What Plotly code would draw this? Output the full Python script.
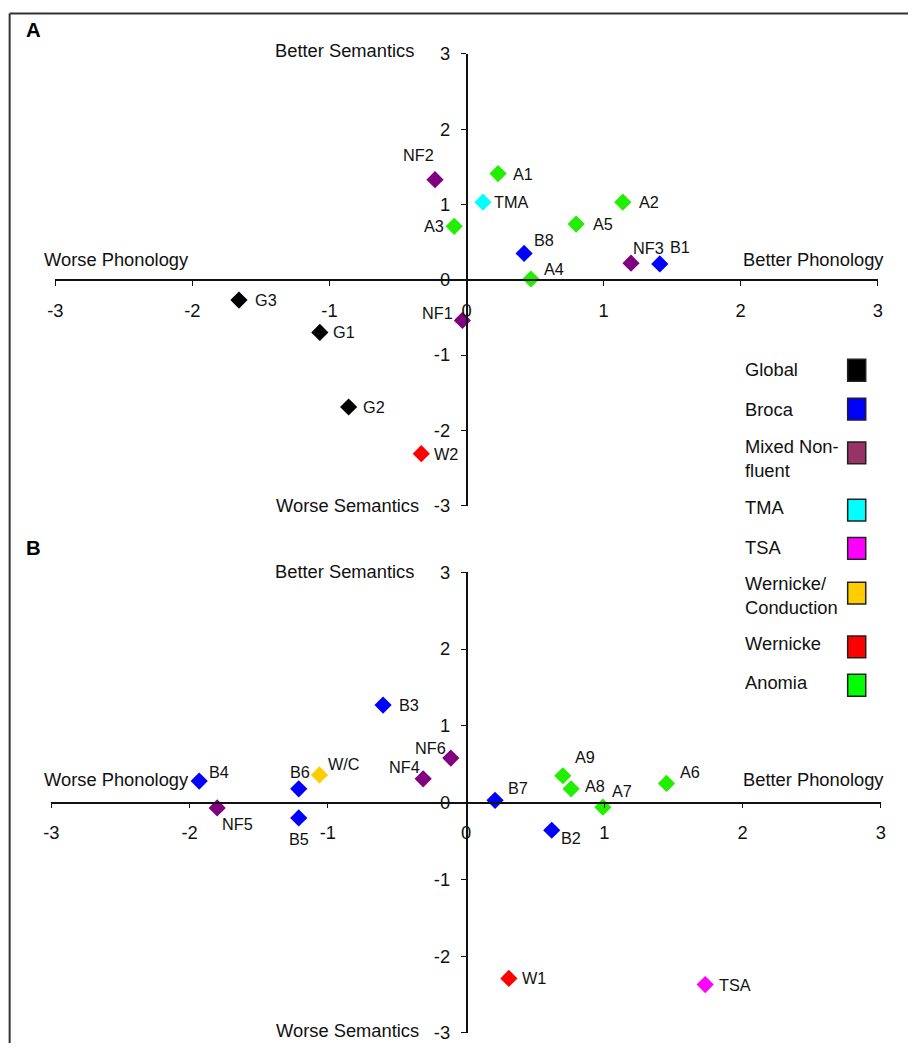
import plotly.graph_objects as go

# ---------------- data ----------------
groups = ["Global", "Broca", "Mixed Non-fluent", "TMA", "TSA",
          "Wernicke/Conduction", "Wernicke", "Anomia"]
legend_text = ["Global", "Broca", "Mixed Non-<br>fluent", "TMA", "TSA",
               "Wernicke/<br>Conduction", "Wernicke", "Anomia"]
marker_colors = ["#000000", "#0000FF", "#800080", "#00FFFF", "#FF00FF",
                 "#FFCC00", "#FF0000", "#22EE00"]
legend_colors = ["#000000", "#0000FF", "#993366", "#00FFFF", "#FF00FF",
                 "#FFCC00", "#FF0000", "#00FF00"]

labels_a = ["NF2", "A1", "TMA", "A3", "A2", "A5", "B8", "A4", "NF3", "B1",
            "G3", "G1", "NF1", "G2", "W2"]
phon_a = [-0.23, 0.23, 0.12, -0.09, 1.14, 0.80, 0.42, 0.47, 1.20, 1.41,
          -1.66, -1.07, -0.03, -0.86, -0.33]
sem_a = [1.33, 1.41, 1.03, 0.71, 1.03, 0.74, 0.35, 0.01, 0.22, 0.21,
         -0.27, -0.70, -0.54, -1.69, -2.31]
group_a = ["Mixed Non-fluent", "Anomia", "TMA", "Anomia", "Anomia", "Anomia",
           "Broca", "Anomia", "Mixed Non-fluent", "Broca", "Global", "Global",
           "Mixed Non-fluent", "Global", "Wernicke"]

labels_b = ["B3", "NF6", "NF4", "W/C", "B6", "B5", "B4", "NF5", "B7", "B2",
            "A9", "A8", "A7", "A6", "W1", "TSA"]
phon_b = [-0.60, -0.11, -0.31, -1.06, -1.21, -1.21, -1.93, -1.80, 0.21, 0.62,
          0.70, 0.76, 0.99, 1.45, 0.31, 1.73]
sem_b = [1.27, 0.58, 0.31, 0.36, 0.18, -0.20, 0.28, -0.07, 0.03, -0.36,
         0.35, 0.18, -0.06, 0.25, -2.29, -2.37]
group_b = ["Broca", "Mixed Non-fluent", "Mixed Non-fluent", "Wernicke/Conduction",
           "Broca", "Broca", "Broca", "Mixed Non-fluent", "Broca", "Broca",
           "Anomia", "Anomia", "Anomia", "Anomia", "Wernicke", "TSA"]

tick_vals = [-3, -2, -1, 0, 1, 2, 3]
tick_text = ["-3", "-2", "-1", "0", "1", "2", "3"]

# ---------------- styling ----------------
# label offsets in pixels (label centre relative to marker centre; +y = down)
label_off_a = [(-16, -24), (25, 0), (28, 0), (-20, 0), (26, 0), (26, 0),
               (20, -13), (23, -10), (17, -15), (20, -17), (27, 0), (24, 0),
               (-24, -7), (25, 0), (24, 0)]
label_off_b = [(25, 0), (-20, -10), (-18, -12), (24, -11), (1, -16), (0, 21),
               (19, -9), (20, 16), (23, -12), (19, 8), (22, -18), (23, -3),
               (19, -16), (23, -11), (25, 0), (29, 0)]

FONT = "Liberation Sans, Arial, sans-serif"
W, H = 913, 1053
BODY = 8                      # page margin around the figure
SX, SY = W / (W + 2 * BODY), H / (H + 2 * BODY)   # page -> picture scale
K = 1 / SX                    # size compensation
color_of = dict(zip(groups, marker_colors))


def px_x(p):
    return (p / SX - BODY) / W


def px_y(p):
    return 1 - (p / SY - BODY) / H


def fs(s):
    return round(s * K, 2)


fig = go.Figure()
anns = []

for lab, xs, ys, gs, offs, xa, ya in [
    (labels_a, phon_a, sem_a, group_a, label_off_a, "x", "y"),
    (labels_b, phon_b, sem_b, group_b, label_off_b, "x2", "y2"),
]:
    fig.add_trace(go.Scatter(
        x=xs, y=ys, mode="markers",
        marker=dict(symbol="diamond", size=fs(13),
                    color=[color_of[g] for g in gs], line=dict(width=0)),
        xaxis=xa, yaxis=ya, showlegend=False, cliponaxis=False,
        hovertext=lab, hoverinfo="text+x+y",
    ))
    for t, x, y, (dx, dy) in zip(lab, xs, ys, offs):
        anns.append(dict(text=t, x=x, y=y, xref=xa, yref=ya, xshift=dx * K,
                         yshift=-dy * K, xanchor="center", yanchor="middle",
                         showarrow=False,
                         font=dict(family=FONT, size=fs(16), color="#111")))

axis_common = dict(range=[-3, 3], tickvals=tick_vals, ticktext=tick_text,
                   ticks="outside", ticklen=5, tickwidth=1, tickcolor="#111",
                   showline=True, linecolor="#111", linewidth=1.5,
                   showgrid=False, zeroline=False, anchor="free",
                   tickfont=dict(family=FONT, size=fs(18), color="#111"),
                   fixedrange=True)

fig.update_layout(
    width=W, height=H, margin=dict(l=0, r=0, t=0, b=0),
    paper_bgcolor="white", plot_bgcolor="rgba(0,0,0,0)",
    xaxis=dict(axis_common, domain=[px_x(55), px_x(875)], position=px_y(278.5),
               ticklabelstandoff=9),
    yaxis=dict(axis_common, domain=[px_y(505), px_y(51)], position=px_x(465),
               ticklabelstandoff=7),
    xaxis2=dict(axis_common, domain=[px_x(51), px_x(878)], position=px_y(803.5),
                ticklabelstandoff=9),
    yaxis2=dict(axis_common, domain=[px_y(1035), px_y(572)], position=px_x(465),
                ticklabelstandoff=7),
)

# quadrant titles
for ys in [(48, 258, 258, 505), (571, 780, 780, 1033)]:
    for txt, px, py, xan in [("Better Semantics", 415, ys[0], "right"),
                             ("Worse Phonology", 42, ys[1], "left"),
                             ("Better Phonology", 883, ys[2], "right"),
                             ("Worse Semantics", 420, ys[3], "right")]:
        anns.append(dict(text=txt, x=px_x(px), y=px_y(py), xref="paper",
                         yref="paper", xanchor=xan, yanchor="middle",
                         showarrow=False,
                         font=dict(family=FONT, size=fs(18), color="#111")))

for letter, py in [("A", 27), ("B", 548)]:
    anns.append(dict(text="<b>%s</b>" % letter, x=px_x(33), y=px_y(py),
                     xref="paper", yref="paper", xanchor="center",
                     yanchor="middle", showarrow=False,
                     font=dict(family=FONT, size=fs(20), color="#000")))

# legend (text left, colored box right)
legend_text_y = [368, 408, 457.5, 507, 547, 595, 644, 683]
legend_box_y = [369, 408, 452, 509.5, 548, 593, 647, 685.5]
shapes = []
for t, c, ty, by in zip(legend_text, legend_colors, legend_text_y, legend_box_y):
    anns.append(dict(text=t, x=px_x(741), y=px_y(ty), xref="paper", yref="paper",
                     xanchor="left", yanchor="middle", align="left",
                     showarrow=False,
                     font=dict(family=FONT, size=fs(18), color="#111")))
    shapes.append(dict(type="rect", xref="paper", yref="paper",
                       x0=px_x(845), x1=px_x(863), y0=px_y(by + 11),
                       y1=px_y(by - 11), fillcolor=c,
                       line=dict(color="#222", width=1.5)))

# outer frame (top and left edges)
shapes.append(dict(type="line", xref="paper", yref="paper", x0=px_x(9.5),
                   x1=1.0, y0=px_y(10.5), y1=px_y(10.5),
                   line=dict(color="#333", width=2)))
shapes.append(dict(type="line", xref="paper", yref="paper", x0=px_x(9.5),
                   x1=px_x(9.5), y0=px_y(10.5), y1=0,
                   line=dict(color="#333", width=2)))

fig.update_layout(annotations=anns, shapes=shapes)
fig.write_html("out.html")
